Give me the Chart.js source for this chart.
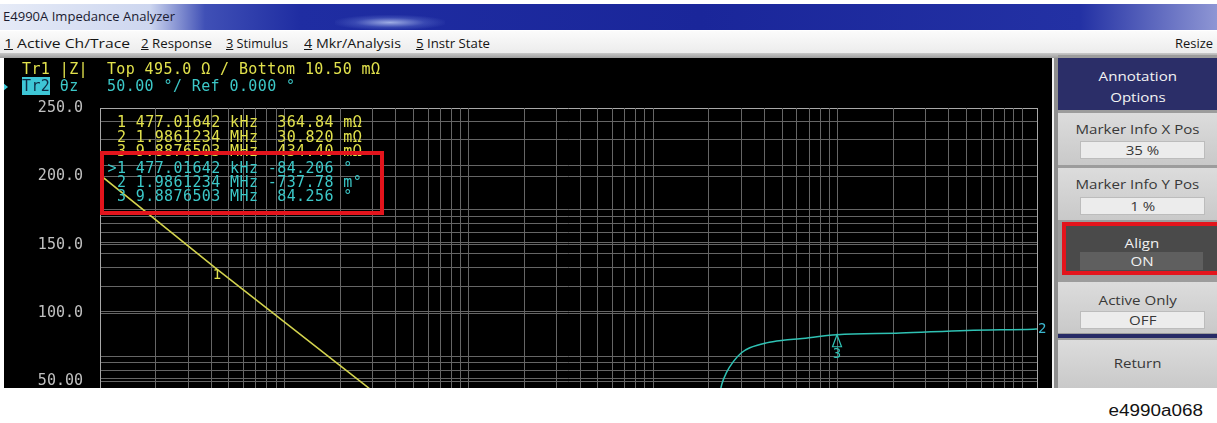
<!DOCTYPE html>
<html>
<head>
<meta charset="utf-8">
<title>E4990A Impedance Analyzer</title>
<script src="https://cdn.jsdelivr.net/npm/chart.js@4.4.1/dist/chart.umd.min.js"></script>
<style>
  html, body { margin: 0; padding: 0; background: #fff; }
  body { position: relative; width: 1217px; height: 423px; overflow: hidden; font-family: "Open Sans", "Noto Sans", sans-serif; }
  .abs { position: absolute; }
  .fit { display: inline-block; transform-origin: left center; white-space: pre; }
  .sx { display: inline-block; transform: scaleX(1.18); transform-origin: left center; white-space: pre; }
  .sxc { display: inline-block; transform: scaleX(1.16); transform-origin: center center; white-space: pre; }
  #titlebar { left: 0; top: 4px; width: 1217px; height: 26px;
    background: linear-gradient(90deg, #e6ebf7 0px, #cdd6ef 150px, #4050b6 205px, #1f2da2 300px, #1a269a 700px, #2331a4 1080px, #8e96d4 1217px); }
  #glow { left: 335px; top: 11px; width: 110px; height: 15px; background: radial-gradient(ellipse at center, rgba(190,205,245,0.8) 0%, rgba(120,140,220,0.3) 45%, rgba(40,50,170,0) 75%); }
  #title { left: 3px; top: 4px; font-size: 12.5px; color: #1b1b30; }
  #menubar { left: 0; top: 31px; width: 1217px; height: 22px; background: linear-gradient(#fbfbfb, #ececec); }
  #menuline { left: 0; top: 53px; width: 1217px; height: 5px; background: linear-gradient(#c9c9c9, #9d9d9d); }
  .menu { top: 4px; font-size: 12.5px; color: #151515; }
  #screen { left: 4px; top: 58px; width: 1048px; height: 330px; background: #000; overflow: hidden; }
  #chartbox { left: -4px; top: 0; width: 1052px; height: 760px; }
  .mono { font-family: "DejaVu Sans Mono", monospace; font-size: 15px; letter-spacing: 0.4px; white-space: pre; }
  .yel { color: #e2e24c; }
  .cya { color: #3cc8c8; }
  .badge { background: #3ec6d6; color: #0d2a44; }
  #redbox { left: 96px; top: 93px; width: 276px; height: 56px; border: 4px solid #e3141c; }
  #sep1 { left: 1052px; top: 58px; width: 2px; height: 330px; background: #f2f2f2; }
  #sep2 { left: 1054px; top: 58px; width: 4px; height: 330px; background: #8e8e8e; }
  #panel { left: 1058px; top: 55px; width: 159px; height: 333px; background: #9c9c9c; }
  .btn { left: 0; width: 159px; background: linear-gradient(#dcdcdc, #c9c9c9); color: #383838; font-size: 13px; text-align: center; }
  .lbl { left: 0; width: 159px; text-align: center; line-height: 16px; }
  .val { left: 22px; width: 123px; background: #ececec; border: 1px solid #bcbcbc; text-align: center; }
  #foot { right: 14px; top: 402px; font-family: "Liberation Sans", Arial, sans-serif; font-size: 16px; color: #121212; }
</style>
</head>
<body>
<div class="abs" id="titlebar"><div class="abs" id="glow"></div><span class="abs" id="title"><span class="fit" data-w="172">E4990A Impedance Analyzer</span></span></div>
<div class="abs" id="menubar">
  <span class="abs menu" style="left:4px"><span class="fit" data-w="126"><u>1</u> Active Ch/Trace</span></span>
  <span class="abs menu" style="left:141px"><span class="fit" data-w="71"><u>2</u> Response</span></span>
  <span class="abs menu" style="left:226px"><span class="fit" data-w="62"><u>3</u> Stimulus</span></span>
  <span class="abs menu" style="left:304px"><span class="fit" data-w="97"><u>4</u> Mkr/Analysis</span></span>
  <span class="abs menu" style="left:416px"><span class="fit" data-w="74"><u>5</u> Instr State</span></span>
  <span class="abs menu" style="left:1175px"><span class="fit" data-w="38">Resize</span></span>
</div>
<div class="abs" id="menuline"></div>

<div class="abs" id="screen">
  <div class="abs" id="chartbox"><canvas id="chart" width="1052" height="760"></canvas></div>
  <!-- trace header -->
  <div class="abs mono yel" style="left:18px;top:4px;line-height:15px">Tr1 |Z|  Top 495.0 Ω / Bottom 10.50 mΩ</div>
  <div class="abs" style="left:-2px;top:24px;width:0;height:0;border-top:5px solid transparent;border-bottom:5px solid transparent;border-left:6px solid #3cc8d8"></div>
  <div class="abs mono cya" style="left:18px;top:22px;line-height:12px"><span class="badge">Tr2</span> θz   50.00 °/ Ref 0.000 °</div>
  <!-- marker info -->
  <div class="abs mono yel" style="left:103.5px;top:57px;line-height:14.6px"> 1 477.01642 kHz  364.84 mΩ
 2 1.9861234 MHz  30.820 mΩ
 3 9.8876503 MHz  434.40 mΩ</div>
  <div class="abs mono cya" style="left:103.5px;top:103px;line-height:14px">&gt;1 477.01642 kHz -84.206 °
 2 1.9861234 MHz -737.78 m°
 3 9.8876503 MHz  84.256 °</div>
  <div class="abs" id="redbox"></div>
</div>

<div class="abs" id="sep1"></div>
<div class="abs" id="sep2"></div>
<div class="abs" id="panel">
  <div class="abs" style="left:0;top:3px;width:159px;height:52px;background:#2b2e68;color:#f4f4f4;font-size:13px;">
    <div class="abs lbl" style="top:10px"><span class="sxc">Annotation</span></div>
    <div class="abs lbl" style="top:31px"><span class="sxc">Options</span></div>
  </div>
  <div class="abs btn" style="top:58px;height:52px">
    <div class="abs lbl" style="top:8px"><span class="sxc">Marker Info X Pos</span></div>
    <div class="abs val" style="top:28px;height:16px;line-height:16px"><span class="sxc">35 %</span></div>
  </div>
  <div class="abs btn" style="top:113px;height:52px">
    <div class="abs lbl" style="top:8px"><span class="sxc">Marker Info Y Pos</span></div>
    <div class="abs val" style="top:29px;height:16px;line-height:16px"><span class="sxc">1 %</span></div>
  </div>
  <div class="abs" style="left:4px;top:167px;width:151px;height:45px;border:4px solid #e3141c;background:#4a4a4a;color:#f2f2f2;font-size:13px;text-align:center">
    <div class="abs lbl" style="left:-4px;top:9px"><span class="sxc">Align</span></div>
    <div class="abs" style="left:14px;top:26px;width:123px;height:18px;line-height:18px;background:#5f5f5f"><span class="sxc">ON</span></div>
  </div>
  <div class="abs btn" style="top:227px;height:51px">
    <div class="abs lbl" style="top:10px"><span class="sxc">Active Only</span></div>
    <div class="abs val" style="top:29px;height:16px;line-height:16px"><span class="sxc">OFF</span></div>
  </div>
  <div class="abs" style="left:0;top:279px;width:159px;height:4px;background:#262a66"></div>
  <div class="abs btn" style="top:285px;height:48px">
    <div class="abs lbl" style="top:15px"><span class="sxc">Return</span></div>
  </div>
</div>

<div class="abs" id="foot"><span class="sx" style="transform-origin:right center">e4990a068</span></div>

<script>
// stretch UI labels to the widths they have in the screenshot
document.querySelectorAll('.fit').forEach(el => {
  const w = el.getBoundingClientRect().width;
  el.style.transform = `scaleX(${el.dataset.w / w})`;
});

// sweep: 1 kHz .. 120 MHz, log
const sweepStart = 1e3;
const sweepStop = 120e6;

// Tr1 |Z| (ohm), log scale Top 495 / Bottom 10.5 m
const zTop = 495;
const zBottom = 0.0105;
const freqZ = [1e3, 4.3e3, 26.8e3, 100e3, 477.01642e3, 1e6, 1.9861234e6, 4e6, 9.8876503e6, 30e6, 120e6];
const magZ = [172.7, 39.25, 6.45, 1.73, 0.36484, 0.134, 0.03082, 0.16, 0.4344, 1.32, 5.3];

// Tr2 theta (deg), 50 deg/div, ref 0
const thetaTop = 250;
const thetaBottom = -250;
const freqTheta = [1e3, 100e3, 477.01642e3, 1e6, 1.6e6, 1.9861234e6, 2.2e6, 2.35e6, 2.49e6, 2.71e6, 3.0e6, 3.33e6, 4.1e6, 5.05e6, 6.22e6, 9.8876503e6, 21.8e6, 50.1e6, 114.8e6, 120e6];
const phaseTheta = [-89.9, -89.2, -84.206, -76, -58, -0.738, 30, 48.3, 56.7, 64.6, 71.1, 74.7, 78.3, 80.2, 81.4, 84.256, 85.5, 87.4, 88.3, 88.4];

const thetaTickValues = [250, 200, 150, 100, 50, 0, -50, -100, -150, -200, -250];
const thetaTickLabels = ['250.0', '200.0', '150.0', '100.0', '50.00', '0.000', '-50.00', '-100.0', '-150.0', '-200.0', '-250.0'];

// markers shown on the traces
const zMarkNo = ['1'];
const zMarkFreq = [4.3e3];
const zMarkVal = [39.25];
const thetaMarkNo = ['3'];
const thetaMarkFreq = [9.8876503e6];
const thetaMarkVal = [84.256];

const yellow = '#d4d44e';
const cyan = '#2fc2b4';
const gridColor = '#666666';
const edgeColor = '#a8a8a8';

// 1..9 x 10^n grid positions inside [min, max]
function decadeGrid(min, max) {
  const out = [];
  for (let e = Math.floor(Math.log10(min)); e <= Math.ceil(Math.log10(max)); e++) {
    for (let k = 1; k <= 9; k++) {
      const v = k * Math.pow(10, e);
      if (v > min * 1.0001 && v < max * 0.9999) out.push(v);
    }
  }
  return out;
}

const traceMarks = {
  id: 'traceMarks',
  afterDatasetsDraw(chart) {
    const {ctx, chartArea, scales: {x, yZ, yTheta}} = chart;
    ctx.save();
    ctx.font = '14px "DejaVu Sans Mono"';
    ctx.textAlign = 'center';
    ctx.textBaseline = 'top';
    ctx.lineWidth = 1.2;

    zMarkNo.forEach((no, i) => {
      const px = x.getPixelForValue(zMarkFreq[i]);
      const py = yZ.getPixelForValue(zMarkVal[i]);
      ctx.fillStyle = '#e2e24c';
      ctx.fillText(no, px, py - 1);
    });

    thetaMarkNo.forEach((no, i) => {
      const px = x.getPixelForValue(thetaMarkFreq[i]);
      const py = yTheta.getPixelForValue(thetaMarkVal[i]);
      ctx.strokeStyle = cyan;
      ctx.beginPath();
      ctx.moveTo(px, py);
      ctx.lineTo(px - 4.5, py + 12);
      ctx.lineTo(px + 4.5, py + 12);
      ctx.closePath();
      ctx.stroke();
      ctx.fillStyle = cyan;
      ctx.fillText(no, px, py + 13);
    });

    // trace number at the right end of Tr2
    const last = phaseTheta.length - 1;
    ctx.textAlign = 'left';
    ctx.textBaseline = 'middle';
    ctx.fillStyle = '#3cb8d0';
    ctx.fillText('2', chartArea.right + 1, yTheta.getPixelForValue(phaseTheta[last]));
    ctx.restore();
  }
};

Chart.defaults.font.family = '"DejaVu Sans Mono", monospace';

new Chart(document.getElementById('chart'), {
  type: 'line',
  plugins: [traceMarks],
  data: {
    datasets: [
      {
        label: 'Tr1 |Z|',
        data: freqZ.map((f, i) => ({x: f, y: magZ[i]})),
        yAxisID: 'yZ',
        borderColor: yellow,
        borderWidth: 1.5,
        pointRadius: 0,
        tension: 0
      },
      {
        label: 'Tr2 θz',
        data: freqTheta.map((f, i) => ({x: f, y: phaseTheta[i]})),
        yAxisID: 'yTheta',
        borderColor: cyan,
        borderWidth: 1.5,
        pointRadius: 0,
        cubicInterpolationMode: 'monotone'
      }
    ]
  },
  options: {
    responsive: false,
    animation: false,
    devicePixelRatio: 1,
    layout: {padding: {left: 0, right: 15, top: 50, bottom: 15}},
    plugins: {legend: {display: false}, tooltip: {enabled: false}},
    scales: {
      yTheta: {
        type: 'linear',
        position: 'left',
        min: thetaBottom,
        max: thetaTop,
        afterFit: s => { s.width = 100; },
        ticks: {
          stepSize: 50,
          padding: 17,
          color: '#c0c0c0',
          font: {size: 15},
          callback: v => thetaTickLabels[thetaTickValues.indexOf(v)] ?? ''
        },
        grid: {
          drawTicks: false,
          lineWidth: 1,
          color: c => (c.tick && Math.abs(c.tick.value) === thetaTop) ? edgeColor : gridColor
        },
        border: {display: false}
      },
      yZ: {
        type: 'logarithmic',
        position: 'left',
        min: zBottom,
        max: zTop,
        bounds: 'data',
        afterFit: s => { s.width = 0; },
        afterBuildTicks: s => { s.ticks = decadeGrid(zBottom, zTop).map(v => ({value: v})); },
        ticks: {display: false},
        grid: {drawTicks: false, color: gridColor, lineWidth: 1},
        border: {display: false}
      },
      x: {
        type: 'logarithmic',
        min: sweepStart,
        max: sweepStop,
        bounds: 'data',
        afterFit: s => { s.height = 0; },
        afterBuildTicks: s => {
          s.ticks = [sweepStart, ...decadeGrid(sweepStart, sweepStop), sweepStop].map(v => ({value: v}));
        },
        ticks: {display: false},
        grid: {
          drawTicks: false,
          lineWidth: 1,
          color: c => (c.tick && (c.tick.value === sweepStart || c.tick.value === sweepStop)) ? edgeColor : gridColor
        },
        border: {display: false}
      }
    }
  }
});
</script>
</body>
</html>
